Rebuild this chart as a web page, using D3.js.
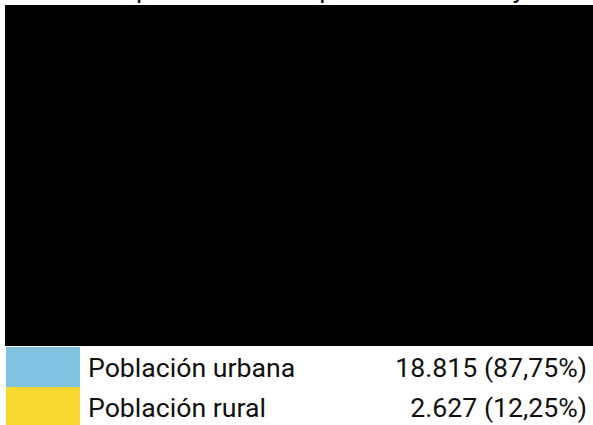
<!DOCTYPE html>
<html>
<head>
<meta charset="utf-8">
<script src="https://cdn.jsdelivr.net/npm/d3@7"></script>
<style>
  body { margin: 0; background: #fff; }
  text { font-family: Roboto, "Noto Sans", sans-serif; fill: #111; }
</style>
</head>
<body>
<script>
const title = "Distribución de la población total por área urbana y rural";
const categories = ["Población urbana", "Población rural"];
const values = [18815, 2627];
const shares = [87.75, 12.25];
const colors = ["#80c2e1", "#f9d82f"];

const W = 593, H = 425;
const plot = {x: 5, y: 5, w: 600, h: 341};
const legendTop = 347, rowH = 40;
const fs = 26.67;

const es = d3.formatLocale({decimal: ",", thousands: ".", grouping: [3], currency: ["", " €"]});
const fmtN = es.format(",d");
const fmtP = es.format(".2f");

const svg = d3.select("body").append("svg").attr("width", W).attr("height", H);

// title (its top is clipped in the original too)
svg.append("text")
  .attr("x", 585).attr("y", -2)
  .attr("text-anchor", "end")
  .attr("font-size", fs)
  .text(title);

// plot area: cells come out black
const root = d3.hierarchy({children: categories.map((c, i) => ({name: c, value: values[i]}))})
  .sum(d => d.value);
d3.treemap().size([plot.w, plot.h]).paddingInner(0)(root);

svg.append("g").attr("transform", "translate(" + plot.x + "," + plot.y + ")")
  .attr("shape-rendering", "crispEdges")
  .selectAll("rect").data(root.leaves()).join("rect")
  .attr("x", d => Math.round(d.x0)).attr("y", d => Math.round(d.y0))
  .attr("width", d => Math.round(d.x1) - Math.round(d.x0) + 1)
  .attr("height", d => Math.round(d.y1) - Math.round(d.y0))
  .attr("fill", "#000");

// legend
const y = d3.scaleBand().domain(categories).range([legendTop, legendTop + rowH * categories.length]);

const rows = svg.append("g").selectAll("g").data(categories).join("g")
  .attr("transform", d => "translate(0," + y(d) + ")");

rows.append("rect")
  .attr("x", 6).attr("width", 74).attr("height", y.bandwidth())
  .attr("fill", (d, i) => colors[i]);

rows.append("text")
  .attr("x", 88).attr("y", 21).attr("dy", "0.35em")
  .attr("font-size", fs)
  .text(d => d);

rows.append("text")
  .attr("x", 587).attr("y", 21).attr("dy", "0.35em")
  .attr("text-anchor", "end")
  .attr("font-size", fs)
  .text((d, i) => fmtN(values[i]) + " (" + fmtP(shares[i]) + "%)");
</script>
</body>
</html>
